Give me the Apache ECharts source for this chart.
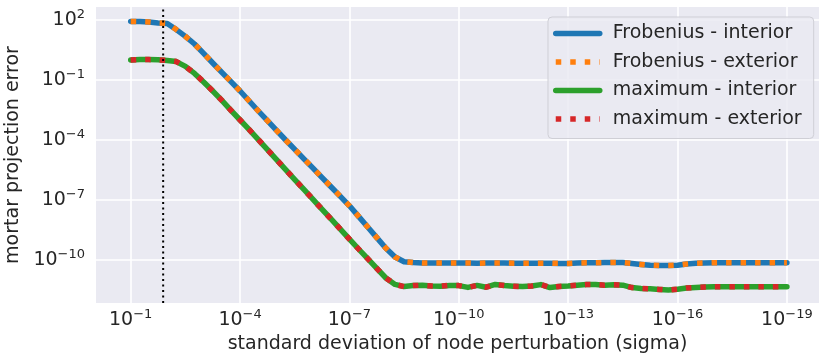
<!DOCTYPE html>
<html>
<head>
<meta charset="utf-8">
<script src="https://cdn.jsdelivr.net/npm/echarts@6/dist/echarts.min.js"></script>
<style>
  html, body { margin: 0; padding: 0; background: #fff; }
  #main { width: 831px; height: 362px; }
</style>
</head>
<body>
<div id="main"></div>
<script>
// sigma exponents (log10), read along the x axis
const sigmaExp = [
  -1, -1.25, -1.5, -1.75, -2, -2.25, -2.5, -2.75, -3, -3.25, -3.5, -3.75,
  -4, -4.25, -4.5, -4.75, -5, -5.25, -5.5, -5.75, -6, -6.25, -6.5, -6.75,
  -7, -7.25, -7.5, -7.75, -8, -8.25, -8.5, -8.75, -9, -9.25, -9.5, -9.75,
  -10, -10.25, -10.5, -10.75, -11, -11.25, -11.5, -11.75, -12, -12.25, -12.5, -12.75,
  -13, -13.25, -13.5, -13.75, -14, -14.25, -14.5, -14.75, -15, -15.25, -15.5, -15.75,
  -16, -16.25, -16.5, -16.75, -17, -17.25, -17.5, -17.75, -18, -18.25, -18.5, -18.75, -19
];
// log10 of the error
const froInteriorLog = [
  1.93, 1.92, 1.9, 1.85, 1.83, 1.52, 1.18, 0.8, 0.33, -0.15, -0.62, -1.08,
  -1.55, -2.05, -2.55, -3.03, -3.52, -4.0, -4.47, -4.94, -5.41, -5.88, -6.35, -6.82,
  -7.29, -7.82, -8.35, -8.88, -9.41, -9.85, -10.09, -10.13, -10.15, -10.15, -10.15, -10.15,
  -10.15, -10.15, -10.16, -10.15, -10.15, -10.15, -10.16, -10.16, -10.16, -10.16, -10.16, -10.17,
  -10.17, -10.15, -10.14, -10.14, -10.13, -10.12, -10.13, -10.17, -10.22, -10.26, -10.28, -10.28,
  -10.26, -10.2, -10.16, -10.15, -10.14, -10.14, -10.14, -10.14, -10.14, -10.14, -10.14, -10.14, -10.14
];
const froExteriorLog = froInteriorLog.slice(); // overlaps the interior curve
const maxInteriorLog = [
  0.0, 0.02, 0.02, 0.01, -0.02, -0.08, -0.32, -0.67, -1.1, -1.55, -2.02, -2.52,
  -3.0, -3.48, -3.98, -4.48, -4.98, -5.48, -5.98, -6.47, -6.97, -7.47, -7.96, -8.46,
  -8.96, -9.45, -9.93, -10.42, -10.9, -11.22, -11.33, -11.28, -11.26, -11.3, -11.31, -11.27,
  -11.28, -11.37, -11.27, -11.36, -11.22, -11.28, -11.31, -11.33, -11.3, -11.23, -11.38, -11.32,
  -11.3, -11.26, -11.23, -11.23, -11.26, -11.24, -11.26, -11.38, -11.42, -11.44, -11.47, -11.5,
  -11.46, -11.4, -11.37, -11.35, -11.34, -11.34, -11.34, -11.34, -11.34, -11.34, -11.34, -11.34, -11.34
];
const maxExteriorLog = maxInteriorLog.slice();
const seriesNames = ["Frobenius - interior", "Frobenius - exterior", "maximum - interior", "maximum - exterior"];
const seriesColors = ["#1f77b4", "#ff7f0e", "#2ca02c", "#d62728"];
const xTicks = [1e-1, 1e-4, 1e-7, 1e-10, 1e-13, 1e-16, 1e-19];
const yTicks = [1e2, 1e-1, 1e-4, 1e-7, 1e-10];
const markerSigmaExp = -1.89;

const xMin = Math.pow(10, -19.88), xMax = Math.pow(10, -0.048);
const yMin = Math.pow(10, -12.15), yMax = Math.pow(10, 2.65);

const chart = echarts.init(document.getElementById("main"));

function toPoints (logs) {
  return sigmaExp.map((e, i) => [Math.pow(10, e), Math.pow(10, logs[i])]);
}

function powLabel (value) {
  const e = Math.round(Math.log10(value));
  const s = e < 0 ? "\u2212" + (-e) : "" + e;
  return "{b|10}{s|" + s + "}";
}

const richLabel = {
  b: { fontSize: 19, lineHeight: 24, fontFamily: "DejaVu Sans", color: "#262626" },
  s: { fontSize: 13, lineHeight: 13, verticalAlign: "top", fontFamily: "DejaVu Sans", color: "#262626" }
};

function lineSeries (idx, logs, dotted) {
  return {
    name: seriesNames[idx],
    type: "line",
    data: toPoints(logs),
    symbol: "none",
    color: seriesColors[idx],
    lineStyle: {
      width: 5.5,
      color: seriesColors[idx],
      type: dotted ? [5.5, 9] : "solid",
      cap: dotted ? "butt" : "round",
      join: "round"
    },
    z: 3 + idx
  };
}

const series = [
  lineSeries(0, froInteriorLog, false),
  lineSeries(1, froExteriorLog, true),
  lineSeries(2, maxInteriorLog, false),
  lineSeries(3, maxExteriorLog, true),
  {
    // dotted vertical marker
    name: "marker",
    type: "line",
    data: [[Math.pow(10, markerSigmaExp), yMin], [Math.pow(10, markerSigmaExp), yMax]],
    symbol: "none",
    silent: true,
    lineStyle: { color: "#000", width: 2, type: [2, 3.5], cap: "butt" },
    z: 10
  }
];

const option = {
  animation: false,
  textStyle: { fontFamily: "DejaVu Sans", color: "#262626" },
  grid: {
    left: 96, right: 12, top: 7, bottom: 59,
    outerBoundsMode: "none",
    containLabel: false,
    show: true, backgroundColor: "#eaeaf2", borderWidth: 0
  },
  legend: {
    orient: "vertical",
    left: 548, top: 17,
    padding: [7, 12, 10, 5],
    itemGap: 9.5,
    itemWidth: 44,
    itemHeight: 19,
    backgroundColor: "rgba(234,234,242,0.85)",
    borderColor: "#cfcfd6",
    borderWidth: 1,
    borderRadius: 4,
    itemStyle: { opacity: 0 },
    lineStyle: { width: 5.5 },
    textStyle: { fontSize: 19, color: "#262626", fontFamily: "DejaVu Sans", padding: [0, 0, 0, 8] },
    data: seriesNames
  },
  xAxis: {
    type: "log",
    logBase: 10,
    inverse: true,
    min: xMin,
    max: xMax,
    name: "standard deviation of node perturbation (sigma)",
    nameLocation: "middle",
    nameGap: 28,
    nameTextStyle: { fontSize: 19, color: "#262626", fontFamily: "DejaVu Sans" },
    axisLine: { show: false },
    axisTick: { show: false, customValues: xTicks },
    axisLabel: { customValues: xTicks, margin: 5, formatter: powLabel, rich: richLabel },
    splitLine: { show: true, lineStyle: { color: "#fff", width: 1.6 } },
    minorSplitLine: { show: false }
  },
  yAxis: {
    type: "log",
    logBase: 10,
    min: yMin,
    max: yMax,
    name: "mortar projection error",
    nameLocation: "middle",
    nameGap: 68,
    nameTextStyle: { fontSize: 19, color: "#262626", fontFamily: "DejaVu Sans" },
    axisLine: { show: false },
    axisTick: { show: false, customValues: yTicks },
    axisLabel: { customValues: yTicks, margin: 11, formatter: powLabel, rich: richLabel },
    splitLine: { show: true, lineStyle: { color: "#fff", width: 1.6 } }
  },
  series: series
};

chart.setOption(option);
</script>
</body>
</html>
